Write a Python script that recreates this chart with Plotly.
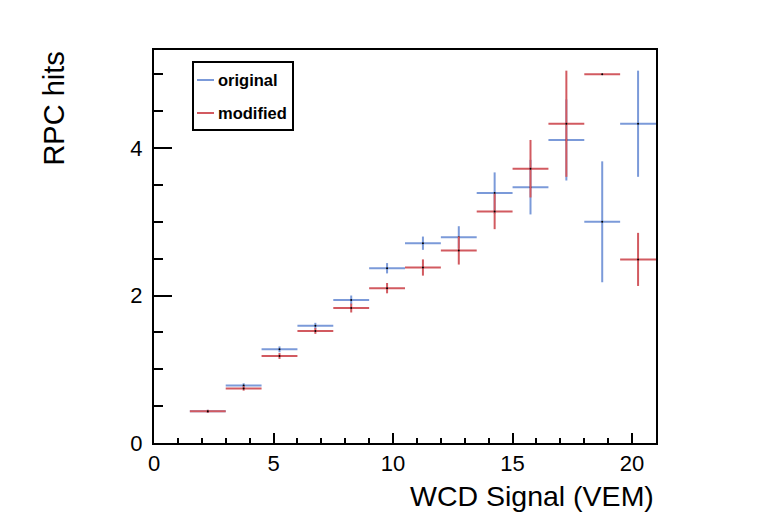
import plotly.graph_objects as go

# bin centres (bin width 1.5 VEM)
wcd_signal = [2.25, 3.75, 5.25, 6.75, 8.25, 9.75, 11.25, 12.75, 14.25, 15.75, 17.25, 18.75, 20.25]
half_width = [0.75] * 13

# original
hits_original = [0.43, 0.78, 1.27, 1.59, 1.94, 2.37, 2.71, 2.79, 3.39, 3.47, 4.11, 3.00, 4.33]
err_original = [0.02, 0.03, 0.04, 0.04, 0.06, 0.07, 0.09, 0.15, 0.28, 0.37, 0.55, 0.82, 0.72]

# modified
hits_modified = [0.43, 0.74, 1.18, 1.52, 1.83, 2.10, 2.38, 2.61, 3.14, 3.72, 4.33, 5.00, 2.49]
err_modified = [0.02, 0.03, 0.04, 0.04, 0.06, 0.07, 0.11, 0.19, 0.24, 0.39, 0.72, 0.0, 0.36]

series_names = ["original", "modified"]

blue = "#7b9ad9"
red = "#d25a60"

fig = go.Figure()

# points with error bars (ROOT style crosses)
for name, y, err, col in [(series_names[0], hits_original, err_original, blue),
                          (series_names[1], hits_modified, err_modified, red)]:
    fig.add_trace(go.Scatter(
        x=wcd_signal, y=y, mode="markers", name=name,
        marker=dict(color="black", size=2),
        error_x=dict(type="data", array=half_width, color=col, thickness=2, width=0),
        error_y=dict(type="data", array=err, color=col, thickness=2, width=0),
        showlegend=False,
    ))

fig.update_layout(
    width=773, height=522,
    margin=dict(l=146, r=125, t=42, b=87),
    paper_bgcolor="white", plot_bgcolor="white",
    font=dict(family="Liberation Sans, Arial, sans-serif", size=22, color="black"),
    showlegend=False,
)

fig.update_xaxes(
    range=[0, 21], dtick=5, tick0=0,
    ticks="inside", ticklen=10, tickwidth=1.5, tickcolor="black",
    minor=dict(ticks="inside", ticklen=5, dtick=1, tickcolor="black", tickwidth=1.5),
    showline=True, linecolor="black", linewidth=2, mirror=True,
    showgrid=False, zeroline=False,
)
fig.update_yaxes(
    range=[0, 5.33], dtick=2, tick0=0,
    ticks="inside", ticklen=18, tickwidth=1.5, tickcolor="black",
    minor=dict(ticks="inside", ticklen=9, dtick=0.5, tickcolor="black", tickwidth=1.5),
    showline=True, linecolor="black", linewidth=2, mirror=True,
    showgrid=False, zeroline=False, ticklabelstandoff=5,
)

# legend box drawn by hand (ROOT TLegend look)
fig.add_shape(type="rect", xref="paper", yref="paper",
              x0=0.0777, x1=0.2769, y0=0.7964, y1=0.9695,
              line=dict(color="black", width=2), fillcolor="white")
for name, col, yy in [(series_names[0], blue, 0.9237), (series_names[1], red, 0.8397)]:
    fig.add_shape(type="line", xref="paper", yref="paper",
                  x0=0.0857, x1=0.1195, y0=yy, y1=yy,
                  line=dict(color=col, width=2))
    fig.add_annotation(text="<b>%s</b>" % name, xref="paper", yref="paper",
                       x=0.1235, y=yy, xanchor="left", yanchor="middle",
                       showarrow=False, font=dict(size=16.5))

# axis titles, ROOT style (aligned to the axis end)
fig.add_annotation(
    text="WCD Signal (VEM)", xref="paper", yref="paper",
    x=1.0, y=-0.135, xanchor="right", yanchor="middle",
    showarrow=False, font=dict(size=28.5),
)
fig.add_annotation(
    text="RPC hits", xref="paper", yref="paper",
    x=-0.2, y=1.0, xanchor="center", yanchor="top", textangle=-90,
    showarrow=False, font=dict(size=29),
)

fig.write_html("out.html")
